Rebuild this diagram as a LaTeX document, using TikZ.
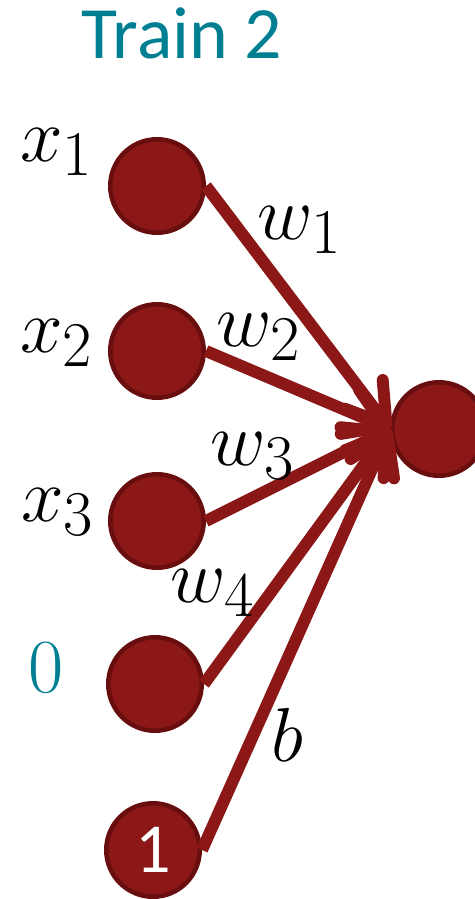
\documentclass[tikz,border=0pt]{standalone}
\usepackage{fontspec}
\usepackage{amsmath}
\usetikzlibrary{arrows.meta}
\newfontfamily\calibrifont{Carlito}

\definecolor{neuronred}{RGB}{139,23,23}
\definecolor{neuronedge}{RGB}{104,14,14}
\definecolor{titleteal}{RGB}{0,127,147}

\tikzset{
	neuron/.style={circle,fill=neuronred,draw=neuronedge,line width=0.09cm,minimum size=1.87cm,inner sep=0pt},
	weight/.style={draw=neuronred,line width=6.8pt,-{Straight Barb[length=0.75cm,width=0.95cm,round]}},
	lbl/.style={font=\Huge,scale=1.75}
}

\begin{document}
\begin{tikzpicture}[x=0.02cm,y=-0.02cm]
	\useasboundingbox (0,0) rectangle (475,899);

	% Title
	\node[anchor=base,text=titleteal,font=\calibrifont\fontsize{42}{50}\selectfont] (title) at (182,58) {Train 2};

	% Input neurons, bias neuron last
	\node[neuron] (in1) at (157,186) {};
	\node[neuron] (in2) at (157,351) {};
	\node[neuron] (in3) at (157,521) {};
	\node[neuron] (in4) at (155,684) {};
	\node[neuron,text=white,font=\calibrifont\fontsize{40}{46}\selectfont] (in5) at (153,850) {1};

	% Output neuron
	\node[neuron] (out) at (439,429) {};

	% Weighted connections
	\draw[weight] (in1.east) -- (out.west);
	\draw[weight] (in2.east) -- (out.west);
	\draw[weight] (in3.east) -- (out.west);
	\draw[weight] (in4.east) -- (out.west);
	\draw[weight] (in5.east) -- (out.west);

	% Input values
	\node[lbl] (x1) at (57,152) {$x_1$};
	\node[lbl] (x2) at (57,343) {$x_2$};
	\node[lbl] (x3) at (58,512) {$x_3$};
	\node[lbl,text=titleteal] (zero) at (46,668) {$0$};

	% Weights and bias
	\node[lbl] (w1) at (300,230) {$w_1$};
	\node[lbl] (w2) at (259,337) {$w_2$};
	\node[lbl] (w3) at (253,456) {$w_3$};
	\node[lbl] (w4) at (213,593) {$w_4$};
	\node[lbl] (b) at (287,735) {$b$};
\end{tikzpicture}
\end{document}
